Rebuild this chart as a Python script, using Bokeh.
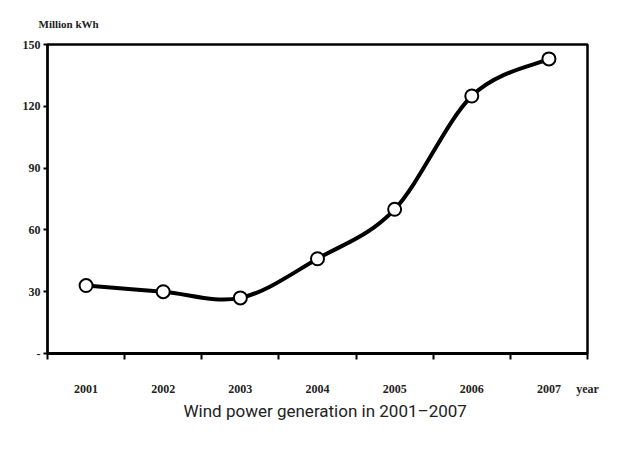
from bokeh.plotting import figure
from bokeh.models import Range1d, FixedTicker, Title
from bokeh.embed import file_html
from bokeh.resources import INLINE

# Wind power generation, million kWh
years = ["2001", "2002", "2003", "2004", "2005", "2006", "2007"]
generation = [33, 30, 27, 46, 70, 125, 143]
y_ticks = [0, 30, 60, 90, 120, 150]

xs = [i + 0.5 for i in range(len(years))]
x_end = len(years)

p = figure(width=619, height=455, output_backend="svg", toolbar_location=None,
           x_range=Range1d(0, x_end), y_range=Range1d(0, 150),
           min_border_left=47, min_border_right=32, min_border_top=42, min_border_bottom=102)
p.background_fill_color = "white"
p.border_fill_color = "white"
p.grid.visible = False
p.outline_line_color = "black"
p.outline_line_width = 2.5

# unit label above the frame
p.title.text = "Million kWh"
p.title.align = "left"
p.title.offset = -9
p.title.standoff = 30
p.title.text_font = "Liberation Serif"
p.title.text_font_style = "bold"
p.title.text_font_size = "11px"
p.title.text_color = "#222222"

# caption below the chart
p.add_layout(Title(text="Wind power generation in 2001\u20132007", align="left", offset=136,
                   text_font="Roboto", text_font_style="normal", text_font_size="17px",
                   text_color="#222222", standoff=0), "below")

# x axis: year labels at category centres, tick marks at the boundaries,
# and the axis name at the right end
xa = p.xaxis[0]
xa.ticker = FixedTicker(ticks=xs + [x_end], minor_ticks=list(range(len(years) + 1)))
overrides = {x: y for x, y in zip(xs, years)}
overrides[x_end] = "year"
xa.major_label_overrides = overrides
xa.major_tick_line_color = None
xa.major_tick_out = 0
xa.major_tick_in = 0
xa.minor_tick_out = 6
xa.minor_tick_in = 0
xa.minor_tick_line_color = "black"
xa.minor_tick_line_width = 2
xa.axis_line_width = 3
xa.axis_line_color = "black"
xa.major_label_standoff = 22
xa.major_label_text_font = "Liberation Serif"
xa.major_label_text_font_style = "bold"
xa.major_label_text_font_size = "12px"
xa.major_label_text_color = "#222222"

ya = p.yaxis[0]
ya.ticker = FixedTicker(ticks=y_ticks)
ya.major_label_overrides = {0: "-"}
ya.minor_tick_line_color = None
ya.major_tick_out = 4
ya.major_tick_in = 0
ya.major_tick_line_width = 2
ya.axis_line_width = 2
ya.axis_line_color = "black"
ya.major_label_standoff = 3
ya.major_label_text_font = "Liberation Serif"
ya.major_label_text_font_style = "bold"
ya.major_label_text_font_size = "12px"
ya.major_label_text_color = "#222222"

# smoothed line through the points (cubic Bezier segments, Catmull-Rom style)
n = len(xs)
x0, y0, x1, y1, cx0, cy0, cx1, cy1 = [], [], [], [], [], [], [], []
for i in range(n - 1):
    xp, yp = (xs[i - 1], generation[i - 1]) if i > 0 else (xs[i], generation[i])
    xn, yn = (xs[i + 2], generation[i + 2]) if i + 2 < n else (xs[i + 1], generation[i + 1])
    x0.append(xs[i]); y0.append(generation[i])
    x1.append(xs[i + 1]); y1.append(generation[i + 1])
    cx0.append(xs[i] + (xs[i + 1] - xp) / 6); cy0.append(generation[i] + (generation[i + 1] - yp) / 6)
    cx1.append(xs[i + 1] - (xn - xs[i]) / 6); cy1.append(generation[i + 1] - (yn - generation[i]) / 6)
p.bezier(x0=x0, y0=y0, x1=x1, y1=y1, cx0=cx0, cy0=cy0, cx1=cx1, cy1=cy1,
         line_color="black", line_width=4)
p.scatter(xs, generation, size=13, fill_color="white", line_color="black", line_width=2)

open("out.html", "w").write(file_html(p, INLINE))
